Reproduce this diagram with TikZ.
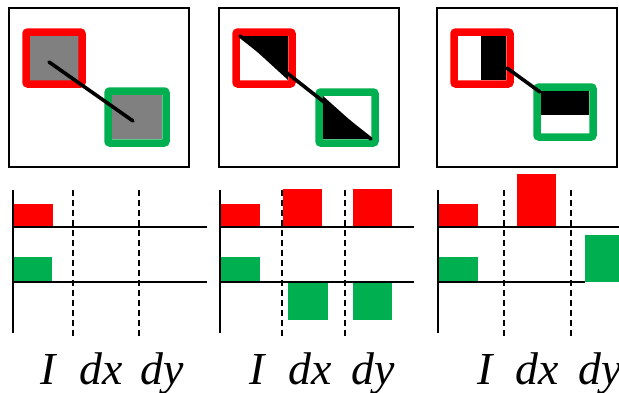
\documentclass[tikz,border=0pt]{standalone}
\usepackage{fontspec}
\setmainfont{Liberation Serif}
\definecolor{boxred}{RGB}{255,0,0}
\definecolor{boxgreen}{RGB}{0,176,80}
\tikzset{
  frame/.style={draw, line width=2bp},
  redbox/.style={draw=boxred, line width=7.5bp, rounded corners=2bp},
  greenbox/.style={draw=boxgreen, line width=7.5bp, rounded corners=2bp},
  link/.style={line width=3.6bp, line cap=round},
  axis/.style={line width=1.7bp},
  grid/.style={line width=1.5bp, dash pattern=on 6bp off 4bp},
  lbl/.style={anchor=base west, inner sep=0pt, font=\fontsize{46}{46}\selectfont\itshape}
}
\begin{document}
\begin{tikzpicture}[x={(1bp,0)}, y={(0,-1bp)}]
  \useasboundingbox (0,0) rectangle (619,392);

  % first pair: both boxes uniform
  \path[frame] (9,8) rectangle (189,167);
  \fill[gray] (30,35) rectangle (79,81);
  \fill[gray] (112,95) rectangle (162,139);
  \path[redbox] (26,32) rectangle (82,84);
  \path[greenbox] (108,91) rectangle (166,143);
  \draw[link] (49,62) -- (133,121);

  % second pair: diagonal halves
  \path[frame] (219,8) rectangle (399,167);
  \fill (240,36) -- (288,36) -- (288,80) -- cycle;
  \fill (323,96) -- (323,139) -- (371,139) -- cycle;
  \path[redbox] (236,32) rectangle (292,84);
  \path[greenbox] (319,92) rectangle (375,143);
  \draw[link] (240,36) -- (371,139);

  % third pair: vertical / horizontal halves
  \path[frame] (437,8) rectangle (617,167);
  \fill (481,36) rectangle (506,80);
  \fill (541,91) rectangle (589,115);
  \path[redbox] (454,32) rectangle (510,84);
  \path[greenbox] (537,87) rectangle (593,137);
  \draw[link] (507,68) -- (540,92);

  % responses, first pair
  \fill[boxred] (13,204) rectangle (53,227);
  \fill[boxgreen] (12,257) rectangle (52,282);
  \draw[axis] (13,190) -- (13,333);
  \draw[axis] (13,227) -- (207,227);
  \draw[axis] (13,282) -- (207,282);
  \draw[grid] (73,190) -- (73,338);
  \draw[grid] (139,190) -- (139,338);

  % responses, second pair
  \fill[boxred] (220,204) rectangle (260,227);
  \fill[boxred] (283,189) rectangle (322,227);
  \fill[boxred] (353,189) rectangle (392,227);
  \fill[boxgreen] (220,257) rectangle (260,282);
  \fill[boxgreen] (288,282) rectangle (328,320);
  \fill[boxgreen] (353,282) rectangle (392,320);
  \draw[axis] (220,190) -- (220,333);
  \draw[axis] (220,227) -- (414,227);
  \draw[axis] (220,282) -- (414,282);
  \draw[grid] (282,190) -- (282,338);
  \draw[grid] (345,190) -- (345,338);

  % responses, third pair
  \fill[boxred] (438,204) rectangle (478,227);
  \fill[boxred] (517,174) rectangle (556,227);
  \fill[boxgreen] (438,257) rectangle (478,282);
  \fill[boxgreen] (585,235) rectangle (625,282);
  \draw[axis] (438,190) -- (438,333);
  \draw[axis] (438,227) -- (619,227);
  \draw[axis] (438,282) -- (585,282);
  \draw[grid] (504,190) -- (504,338);
  \draw[grid] (571,190) -- (571,338);

  % channel names
  \node[lbl] (i1) at (40,384) {I};
  \node[lbl] (dx1) at (79,384) {dx};
  \node[lbl] (dy1) at (140,384) {dy};
  \node[lbl] (i2) at (249,384) {I};
  \node[lbl] (dx2) at (288,384) {dx};
  \node[lbl] (dy2) at (351,384) {dy};
  \node[lbl] (i3) at (477,384) {I};
  \node[lbl] (dx3) at (515,384) {dx};
  \node[lbl] (dy3) at (578,384) {dy};
\end{tikzpicture}
\end{document}
